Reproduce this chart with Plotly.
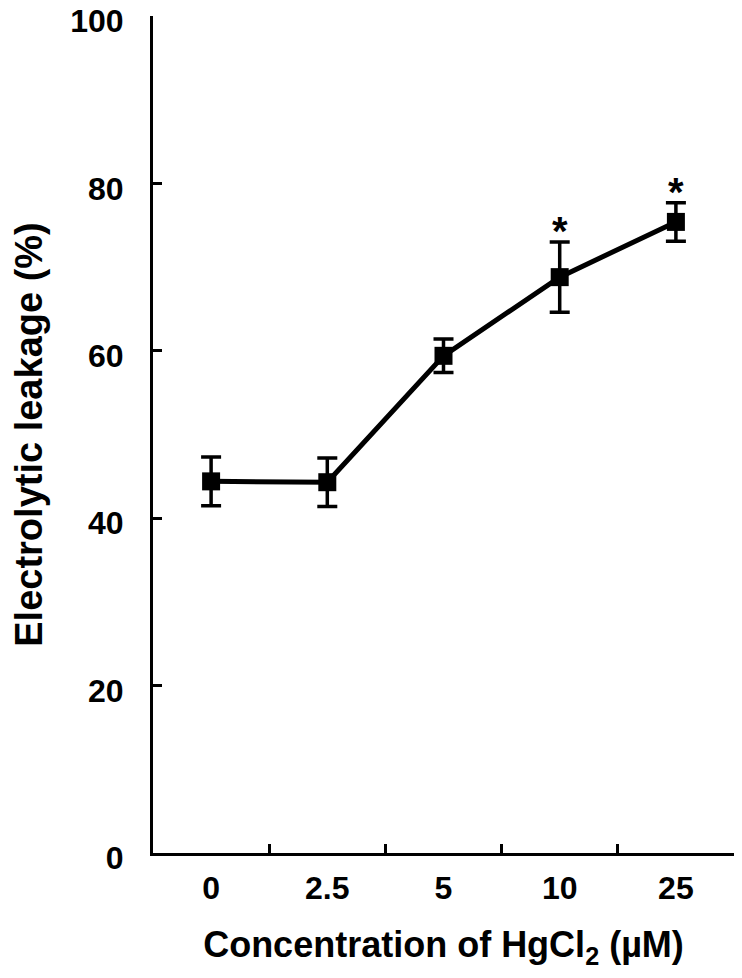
import plotly.graph_objects as go

# Data
concentrations = ["0", "2.5", "5", "10", "25"]
leakage = [44.4, 44.3, 59.4, 68.8, 75.4]
sd = [2.9, 2.9, 2.0, 4.2, 2.3]
significant = [False, False, False, True, True]
y_ticks = [0, 20, 40, 60, 80, 100]

FONT = "Liberation Sans"

fig = go.Figure()
fig.add_trace(go.Scatter(
    x=concentrations, y=leakage,
    mode="lines+markers",
    line=dict(color="black", width=5),
    marker=dict(symbol="square", size=18, color="black"),
    error_y=dict(type="data", array=sd, visible=True, thickness=3.5, width=10, color="black"),
    showlegend=False,
))

for i, (v, e, s) in enumerate(zip(leakage, sd, significant)):
    if s:
        fig.add_annotation(x=i, y=v + e, xref="x", yref="y", text="<b>*</b>", showarrow=False,
                           yanchor="bottom", yshift=-13,
                           font=dict(family=FONT, size=40, color="black"))

fig.update_layout(
    width=726, height=962,
    margin=dict(l=145, r=0, t=8, b=117),
    paper_bgcolor="white", plot_bgcolor="white",
    font=dict(family=FONT, color="black"),
    xaxis=dict(
        type="category", range=[-0.5, 4.5], automargin=False,
        showline=True, linewidth=3, linecolor="black",
        ticks="inside", tickson="boundaries", ticklen=9, tickwidth=3, tickcolor="black",
        showgrid=False, zeroline=False,
        tickfont=dict(family=FONT, size=32, color="black", weight="bold"),
        ticklabelstandoff=5,
        title=dict(text="Concentration of HgCl<sub>2</sub> (µM)", standoff=33,
                   font=dict(family=FONT, size=36, color="black", weight="bold")),
    ),
    yaxis=dict(
        range=[0, 100], tickvals=y_ticks, automargin=False,
        showline=True, linewidth=3, linecolor="black",
        ticks="inside", ticklen=9, tickwidth=3, tickcolor="black",
        showgrid=False, zeroline=False,
        ticklabeloverflow="allow", ticklabelshift=5,
        tickfont=dict(family=FONT, size=32, color="black", weight="bold"),
        ticklabelstandoff=20,
        title=dict(text="Electrolytic leakage (%)", standoff=54,
                   font=dict(family=FONT, size=38, color="black", weight="bold")),
    ),
)

fig.write_html("out.html")
